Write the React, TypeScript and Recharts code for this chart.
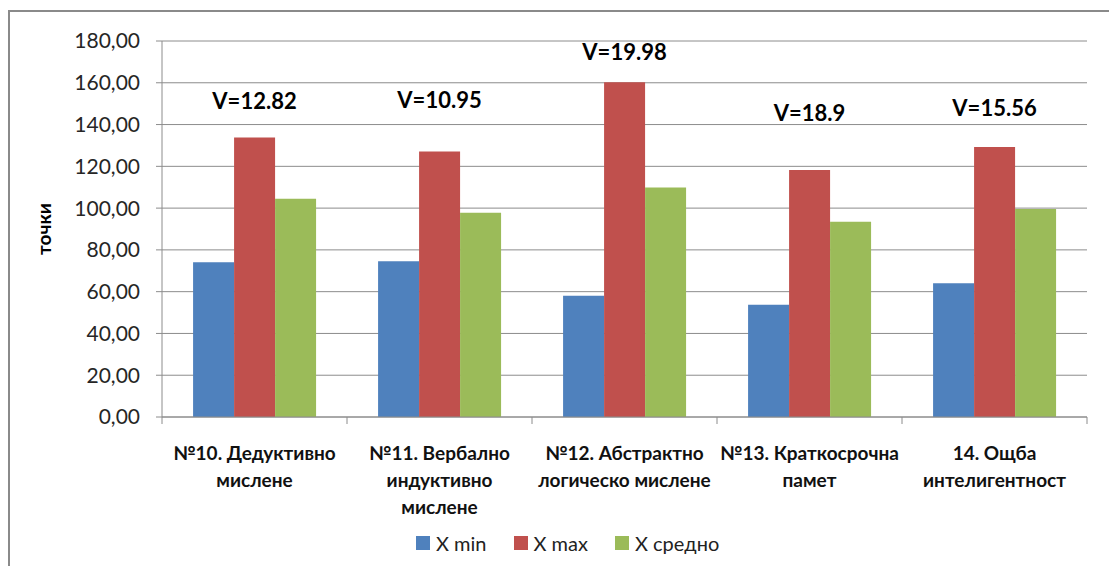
import React from 'react';
import { BarChart, Bar, XAxis, YAxis, CartesianGrid, Legend, ReferenceDot, Label } from 'recharts';

const categories = [
  '№10. Дедуктивно\nмислене',
  '№11. Вербално\nиндуктивно\nмислене',
  '№12. Абстрактно\nлогическо мислене',
  '№13. Краткосрочна\nпамет',
  '14. Ощба\nинтелигентност',
];
const xMin = [74.1, 74.6, 58.0, 53.7, 64.0];
const xMax = [133.8, 127.1, 160.3, 118.2, 129.3];
const xAvg = [104.5, 97.8, 109.9, 93.5, 99.6];
const vLabels = ['V=12.82', 'V=10.95', 'V=19.98', 'V=18.9', 'V=15.56'];
// height (in points) where each V annotation sits
const vLevels = [151, 151.6, 174.8, 145.3, 147.7];
const yTicks = [0, 20, 40, 60, 80, 100, 120, 140, 160, 180];

const seriesNames = ['X min', 'X max', 'X средно'];
const COLORS = ['#4F81BD', '#C0504D', '#9BBB59'];

const data = categories.map((name, i) => ({
  name,
  min: xMin[i],
  max: xMax[i],
  avg: xAvg[i],
}));

const FONT = 'Lato, "Open Sans", sans-serif';
const PLOT_LEFT = 162;
const PLOT_RIGHT = 1087;
const BAND = (PLOT_RIGHT - PLOT_LEFT) / categories.length;
const AXIS_GRAY = '#8c8c8c';

const CategoryTick = (props: any) => {
  const { x, y, payload, index } = props;
  const lines: string[] = String(payload.value).split('\n');
  return (
    <g>
      <line x1={x - BAND / 2} x2={x - BAND / 2} y1={y - 7} y2={y} stroke={AXIS_GRAY} />
      {index === categories.length - 1 && (
        <line x1={x + BAND / 2} x2={x + BAND / 2} y1={y - 7} y2={y} stroke={AXIS_GRAY} />
      )}
      <text x={x} y={y + 36} textAnchor="middle" fontFamily={FONT} fontSize={19} fontWeight={700} fill="#111">
        {lines.map((l, i) => (
          <tspan key={i} x={x} dy={i === 0 ? 0 : 27}>{l}</tspan>
        ))}
      </text>
    </g>
  );
};

const LegendContent = () => (
  <div style={{ display: 'flex', alignItems: 'center', height: 30, paddingLeft: 416, fontFamily: FONT, fontSize: 20, color: '#222' }}>
    {seriesNames.map((n, i) => (
      <div key={n} style={{ display: 'flex', alignItems: 'center', marginRight: 27 }}>
        <span style={{ width: 14, height: 14, background: COLORS[i], display: 'inline-block', marginRight: 6 }} />
        <span>{n}</span>
      </div>
    ))}
  </div>
);

const YTitle = (props: any) => {
  const { viewBox } = props;
  const cy = viewBox.y + viewBox.height / 2;
  return (
    <text x={43} y={cy} transform={`rotate(-90 43 ${cy})`} textAnchor="middle" dominantBaseline="central"
      fontFamily={FONT} fontSize={19} fontWeight={700} fill="#000">
      точки
    </text>
  );
};

export default function App() {
  return (
    <div style={{ position: 'absolute', left: 0, top: 0, width: 1109, height: 566, overflow: 'hidden', background: '#fff' }}>
      <div style={{ position: 'absolute', left: 8, top: 10, width: 1200, height: 700, borderTop: '2px solid #8a8a8a', borderLeft: '2px solid #8a8a8a' }} />
      <div style={{ position: 'absolute', left: 0, top: 0 }}>
        <BarChart
          width={1109}
          height={566}
          data={data}
          margin={{ top: 41, right: 1109 - PLOT_RIGHT, left: 0, bottom: 8 }}
          barCategoryGap="16.8%"
          barGap={0}
        >
          <CartesianGrid vertical={false} stroke={AXIS_GRAY} />
          <XAxis
            dataKey="name"
            interval={0}
            height={111}
            tickSize={7}
            tickMargin={0}
            tickLine={false}
            axisLine={{ stroke: AXIS_GRAY }}
            tick={<CategoryTick />}
          />
          <YAxis
            width={PLOT_LEFT}
            domain={[0, 180]}
            ticks={yTicks}
            tickFormatter={(v: number) => v.toFixed(2).replace('.', ',')}
            tickSize={6}
            tickMargin={16}
            axisLine={{ stroke: AXIS_GRAY }}
            tickLine={{ stroke: AXIS_GRAY }}
            tick={{ fontFamily: FONT, fontSize: 21, fill: '#262626' }}
          >
            <Label content={<YTitle />} />
          </YAxis>
          <Legend verticalAlign="bottom" content={<LegendContent />} />
          <Bar dataKey="min" name={seriesNames[0]} fill={COLORS[0]} isAnimationActive={false} />
          <Bar dataKey="max" name={seriesNames[1]} fill={COLORS[1]} isAnimationActive={false} />
          <Bar dataKey="avg" name={seriesNames[2]} fill={COLORS[2]} isAnimationActive={false} />
          {categories.map((c, i) => (
            <ReferenceDot
              key={c}
              x={c}
              y={vLevels[i]}
              r={0}
              fill="none"
              stroke="none"
              label={{ value: vLabels[i], position: 'center', fontFamily: FONT, fontSize: 22, fontWeight: 700, fill: '#000' }}
            />
          ))}
        </BarChart>
      </div>
    </div>
  );
}
